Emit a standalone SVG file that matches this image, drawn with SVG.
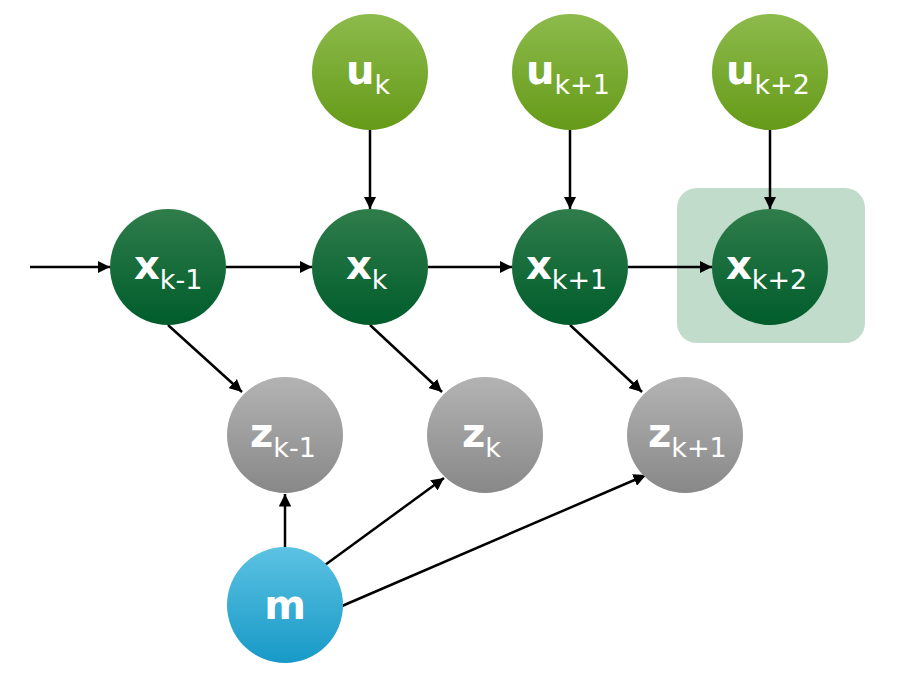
<svg xmlns="http://www.w3.org/2000/svg" width="903" height="683" viewBox="0 0 903 683">
<defs>
<linearGradient id="gu" x1="0" y1="0" x2="0" y2="1"><stop offset="0" stop-color="#8dbb4c"/><stop offset="1" stop-color="#659a18"/></linearGradient>
<linearGradient id="gx" x1="0" y1="0" x2="0" y2="1"><stop offset="0" stop-color="#2f7d4b"/><stop offset="1" stop-color="#005c2b"/></linearGradient>
<linearGradient id="gz" x1="0" y1="0" x2="0" y2="1"><stop offset="0" stop-color="#b3b3b3"/><stop offset="1" stop-color="#888888"/></linearGradient>
<linearGradient id="gm" x1="0" y1="0" x2="0" y2="1"><stop offset="0" stop-color="#5cc2e2"/><stop offset="1" stop-color="#1799c7"/></linearGradient>
<marker id="ar" viewBox="0 0 10 10" refX="10" refY="5" markerWidth="5" markerHeight="5" orient="auto"><path d="M0,0 L10,5 L0,10 z" fill="#000"/></marker>
</defs>
<style>
.e{stroke:#000;stroke-width:2.5;fill:none;marker-end:url(#ar)}
.t{font-family:"DejaVu Sans",Verdana,sans-serif;fill:#fff;font-size:40px;font-weight:bold}
.s{font-size:27px;font-weight:normal}
</style>
<rect x="677" y="188" width="188" height="155" rx="20" fill="#c1dccb"/>
<g id="connectors">
<line class="e" x1="30" y1="267" x2="110" y2="267"/>
<line class="e" x1="226" y1="267" x2="312" y2="267"/>
<line class="e" x1="428" y1="267" x2="512" y2="267"/>
<line class="e" x1="628" y1="267" x2="712" y2="267"/>
<line class="e" x1="370" y1="130" x2="370" y2="209"/>
<line class="e" x1="570" y1="130" x2="570" y2="209"/>
<line class="e" x1="770" y1="130" x2="770" y2="209"/>
<line class="e" x1="168" y1="325" x2="242" y2="392"/>
<line class="e" x1="370" y1="325" x2="442" y2="392"/>
<line class="e" x1="570" y1="325" x2="642" y2="392"/>
<line class="e" x1="285" y1="547" x2="285" y2="494"/>
<line class="e" x1="325" y1="565" x2="444" y2="478"/>
<line class="e" x1="342" y1="606" x2="646" y2="475"/>
</g>
<g id="uk"><circle cx="370" cy="72" r="58" fill="url(#gu)"/><text class="t" x="346" y="84">u<tspan class="s" dy="10">k</tspan></text></g>
<g id="uk1"><circle cx="570" cy="72" r="58" fill="url(#gu)"/><text class="t" x="526" y="84">u<tspan class="s" dy="10">k+1</tspan></text></g>
<g id="uk2"><circle cx="770" cy="72" r="58" fill="url(#gu)"/><text class="t" x="726" y="84">u<tspan class="s" dy="10">k+2</tspan></text></g>
<g id="xkm1"><circle cx="168" cy="267" r="58" fill="url(#gx)"/><text class="t" x="134" y="279">x<tspan class="s" dy="10">k-1</tspan></text></g>
<g id="xk"><circle cx="370" cy="267" r="58" fill="url(#gx)"/><text class="t" x="346" y="279">x<tspan class="s" dy="10">k</tspan></text></g>
<g id="xk1"><circle cx="570" cy="267" r="58" fill="url(#gx)"/><text class="t" x="526" y="279">x<tspan class="s" dy="10">k+1</tspan></text></g>
<g id="xk2"><circle cx="770" cy="267" r="58" fill="url(#gx)"/><text class="t" x="726" y="279">x<tspan class="s" dy="10">k+2</tspan></text></g>
<g id="zkm1"><circle cx="285" cy="435" r="58" fill="url(#gz)"/><text class="t" x="250" y="447">z<tspan class="s" dy="10">k-1</tspan></text></g>
<g id="zk"><circle cx="485" cy="435" r="58" fill="url(#gz)"/><text class="t" x="462" y="447">z<tspan class="s" dy="10">k</tspan></text></g>
<g id="zk1"><circle cx="685" cy="435" r="58" fill="url(#gz)"/><text class="t" x="648" y="447">z<tspan class="s" dy="10">k+1</tspan></text></g>
<g id="m"><circle cx="285" cy="605" r="58" fill="url(#gm)"/><text class="t" x="285" y="619" text-anchor="middle">m</text></g>
</svg>
